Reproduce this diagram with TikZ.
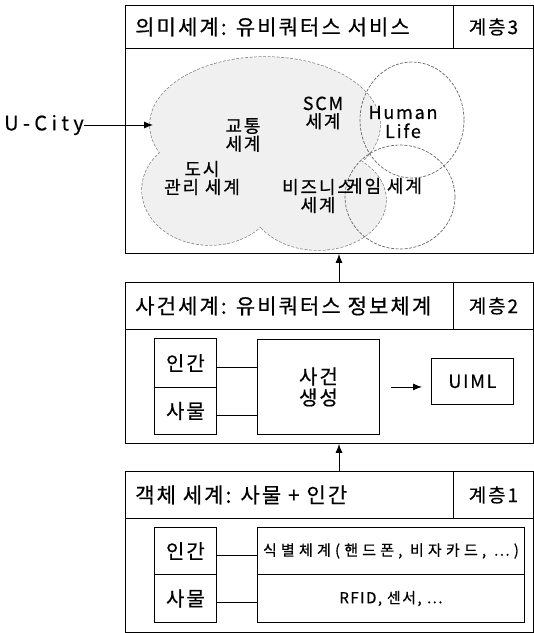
\documentclass[tikz,border=0pt]{standalone}
\usepackage{fontspec}
\setmainfont{Noto Sans CJK KR}[LetterSpace=10, FakeBold=0.5]
\newfontfamily\wide{Noto Sans CJK KR}[LetterSpace=22, FakeBold=0.5]
\newfontfamily\spaced{Noto Sans CJK KR}[LetterSpace=28, FakeBold=0.5]
\usetikzlibrary{arrows.meta}
\begin{document}
\begin{tikzpicture}[x=1pt,y=-1pt,
  box/.style={draw, line width=0.9pt, inner sep=0pt, anchor=north west},
  ttl/.style={font=\fontsize{21}{21}\selectfont, inner sep=0pt},
  ctext/.style={font=\fontsize{18}{18}\selectfont, align=center, inner sep=0pt},
  small/.style={font=\fontsize{15}{15}\selectfont, inner sep=0pt},
  arr/.style={-{Latex[length=9pt,width=7pt]}, line width=0.9pt},
  conn/.style={line width=0.8pt},
  cloudline/.style={draw=black!50, line width=1.4pt, dash pattern=on 3pt off 1.5pt},
  cloudfill/.style={fill=black!6},
  ring/.style={draw=black!60, line width=0.7pt, dash pattern=on 3pt off 1.5pt}
]
\useasboundingbox (0,0) rectangle (534,633);

% ---------- Layer 3 ----------
\node[box, minimum width=328pt, minimum height=43pt] (t3) at (125,5) {};
\node[ttl, anchor=west] (t3txt) at ([xshift=10pt]t3.west) {의미세계: 유비쿼터스 서비스};
\node[box, minimum width=80pt, minimum height=43pt, font=\fontsize{19}{19}\selectfont] (l3) at (453,5) {계층3};
\node[box, minimum width=408pt, minimum height=205pt] (b3) at (125,48) {};

% cloud (union of ellipses)
\begin{scope}
  \draw[cloudline] (265,125) ellipse [x radius=115, y radius=68];
  \draw[cloudline] (210,190) ellipse [x radius=68, y radius=55];
  \draw[cloudline] (318,200) ellipse [x radius=68, y radius=50];
  \fill[cloudfill] (265,125) ellipse [x radius=115, y radius=68];
  \fill[cloudfill] (210,190) ellipse [x radius=68, y radius=55];
  \fill[cloudfill] (318,200) ellipse [x radius=68, y radius=50];
\end{scope}
\draw[ring] (412,120) ellipse [x radius=52, y radius=58];
\draw[ring] (400,197) ellipse [x radius=55, y radius=52];

\node[ctext] (traffic) at (243,135) {교통\\세계};
\node[ctext] (scm) at (323,113) {SCM\\세계};
\node[ctext, font=\fontsize{18}{19}\selectfont] (human) at (403,122) {Human\\Life};
\node[ctext] (city) at (202,178) {도시\\관리 세계};
\node[ctext] (biz) at (318,196) {비즈니스\\세계};
\node[ctext, anchor=west] (game) at (346,186) {게임 세계};

\node[font=\wide\fontsize{20}{20}\selectfont, inner sep=0pt, anchor=west] (ucity) at (4,125) {U-City};
\coordinate (ucitytip) at (153,125);
\draw[arr] (ucity.east) -- (ucitytip);

% ---------- Layer 2 ----------
\node[box, minimum width=328pt, minimum height=47pt] (t2) at (125,282) {};
\node[ttl, anchor=west] (t2txt) at ([xshift=10pt]t2.west) {사건세계: 유비쿼터스 정보체계};
\node[box, minimum width=80pt, minimum height=47pt, font=\fontsize{19}{19}\selectfont] (l2) at (453,282) {계층2};
\node[box, minimum width=408pt, minimum height=114pt] (b2) at (125,329) {};

\node[box, minimum width=62pt, minimum height=49pt, font=\fontsize{20}{20}\selectfont] (h2) at (154,338) {인간};
\node[box, minimum width=62pt, minimum height=47pt, font=\fontsize{20}{20}\selectfont] (s2) at (154,387) {사물};
\node[box, minimum width=122pt, minimum height=95pt, align=center, font=\fontsize{20}{21}\selectfont] (ev) at (257,339) {사건\\생성};
\node[box, minimum width=82pt, minimum height=46pt, font=\fontsize{18}{18}\selectfont] (ui) at (431,358) {UIML};

\draw[conn] ([yshift=-4pt]h2.east) -- ([yshift=-4pt]ev.west |- h2.east);
\draw[conn] ([yshift=-4pt]s2.east) -- ([yshift=-4pt]ev.west |- s2.east);
\draw[arr] ([xshift=11pt]ev.east) -- ([xshift=-9pt]ui.west |- ev.east);

% ---------- Layer 1 ----------
\node[box, minimum width=328pt, minimum height=47pt] (t1) at (125,471) {};
\node[ttl, anchor=west] (t1txt) at ([xshift=10pt]t1.west) {객체 세계: 사물 + 인간};
\node[box, minimum width=80pt, minimum height=47pt, font=\fontsize{19}{19}\selectfont] (l1) at (453,471) {계층1};
\node[box, minimum width=408pt, minimum height=114pt] (b1) at (125,518) {};

\node[box, minimum width=62pt, minimum height=47pt, font=\fontsize{20}{20}\selectfont] (h1) at (154,527) {인간};
\node[box, minimum width=62pt, minimum height=48pt, font=\fontsize{20}{20}\selectfont] (s1) at (154,574) {사물};
\node[box, minimum width=267pt, minimum height=47pt, inner sep=0pt, font=\spaced\fontsize{15}{15}\selectfont] (id) at (257,527) {식별체계(핸드폰, 비자카드, …)};
\node[box, minimum width=267pt, minimum height=48pt, small] (rf) at (257,574) {RFID, 센서, …};

\draw[conn] ([yshift=-4pt]h1.east) -- ([yshift=-4pt]id.west);
\draw[conn] ([yshift=-4pt]s1.east) -- ([yshift=-4pt]rf.west);

% ---------- inter-layer arrows ----------
\coordinate (ax) at (339,0);
\draw[arr] (t2.north -| ax) -- (b3.south -| ax);
\draw[arr] (t1.north -| ax) -- (b2.south -| ax);
\end{tikzpicture}
\end{document}
